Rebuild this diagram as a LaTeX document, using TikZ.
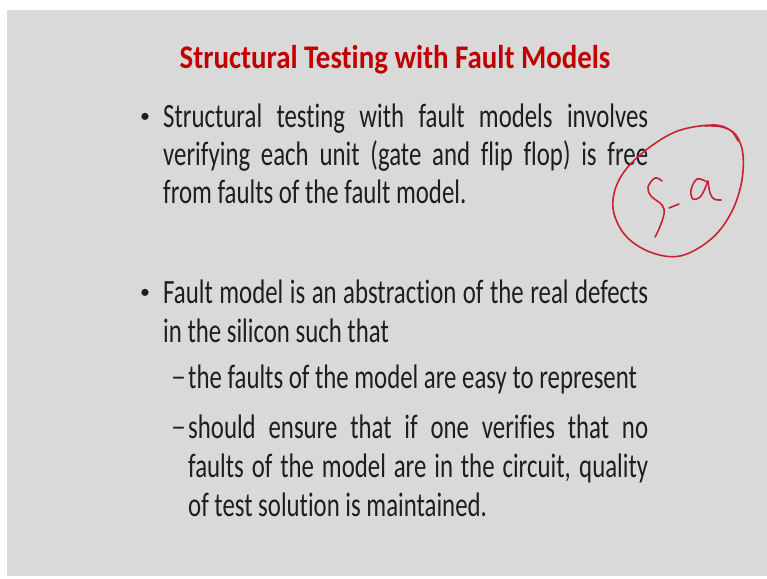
\documentclass[tikz,border=0pt]{standalone}
\usepackage{fontspec}
\setmainfont[FakeStretch=0.73, Ligatures=NoCommon]{Carlito}
\newfontfamily\titlefont[FakeStretch=0.875, Ligatures=NoCommon]{Carlito Bold}
\newfontfamily\markfont{Carlito}
\definecolor{slidebg}{RGB}{217,217,217}
\definecolor{titlered}{RGB}{192,0,0}
\definecolor{bodyink}{RGB}{30,30,30}
\definecolor{penred}{RGB}{200,35,50}
\tikzset{
  bodyline/.style={anchor=base west, inner sep=0pt, text=bodyink, font=\fontsize{34}{40}\selectfont},
  bulletmark/.style={anchor=base west, inner sep=0pt, text=bodyink, font=\markfont\fontsize{20}{20}\selectfont},
  dashmark/.style={anchor=base west, inner sep=0pt, text=bodyink, font=\markfont\fontsize{30}{30}\selectfont},
  penstroke/.style={draw=penred, line width=1.6pt, line cap=round, line join=round}
}
\newcommand{\fullline}[2]{\makebox[#1][s]{#2}}
\begin{document}
\begin{tikzpicture}[x=1pt,y=-1pt]
  % page and slide area
  \fill[white] (0,0) rectangle (767,578);
  \useasboundingbox (0,0) rectangle (767,578);
  \fill[slidebg] (7,10) rectangle (767,576);

  % title
  \node[anchor=base, inner sep=0pt, text=titlered, font=\titlefont\fontsize{33}{38}\selectfont]
    (title) at (395,68) {Structural Testing with Fault Models};

  % first bullet
  \node[bulletmark] (b1) at (140,127) {\raisebox{5pt}{\textbullet}};
  \node[bodyline] (l1) at (163,127) {\fullline{485pt}{Structural testing with fault models involves}};
  \node[bodyline] (l2) at (163,165) {\fullline{485pt}{verifying each unit (gate and flip flop) is free}};
  \node[bodyline] (l3) at (163,203) {from faults of the fault model.};

  % second bullet
  \node[bulletmark] (b2) at (140,303) {\raisebox{5pt}{\textbullet}};
  \node[bodyline] (l4) at (163,303) {\fullline{485pt}{Fault model is an abstraction of the real defects}};
  \node[bodyline] (l5) at (163,342) {in the silicon such that};

  % sub-items
  \node[dashmark] (d1) at (171,388) {\raisebox{1.5pt}{\textendash}};
  \node[bodyline] (s1) at (188,388) {the faults of the model are easy to represent};
  \node[dashmark] (d2) at (171,438) {\raisebox{1.5pt}{\textendash}};
  \node[bodyline] (s2) at (188,438) {\fullline{460pt}{should ensure that if one verifies that no}};
  \node[bodyline] (s3) at (188,477) {\fullline{460pt}{faults of the model are in the circuit, quality}};
  \node[bodyline] (s4) at (188,516) {of test solution is maintained.};

  % handwritten note: ring
  \draw[penstroke] plot[smooth, tension=0.6] coordinates {
    (705,126) (722,127) (736,135) (743,155) (741,185) (730,215) (710,240)
    (680,256) (650,252) (625,235) (613,208) (619,180) (640,155) (675,132)
    (712,125) (730,130) (738,141)};
  % handwritten note: "S"
  \draw[penstroke] plot[smooth, tension=0.6] coordinates {
    (662,181) (655,178) (648,187) (651,196) (662,205) (664,214) (659,229) (655,237)};
  % handwritten note: dash
  \draw[penstroke] (669,208) -- (679,204);
  % handwritten note: "a"
  \draw[penstroke] plot[smooth, tension=0.6] coordinates {
    (707,182) (697,179) (691,190) (693,199) (701,196) (708,181)};
  \draw[penstroke] plot[smooth, tension=0.6] coordinates {
    (708,181) (710,193) (714,199) (721,200)};
\end{tikzpicture}
\end{document}
